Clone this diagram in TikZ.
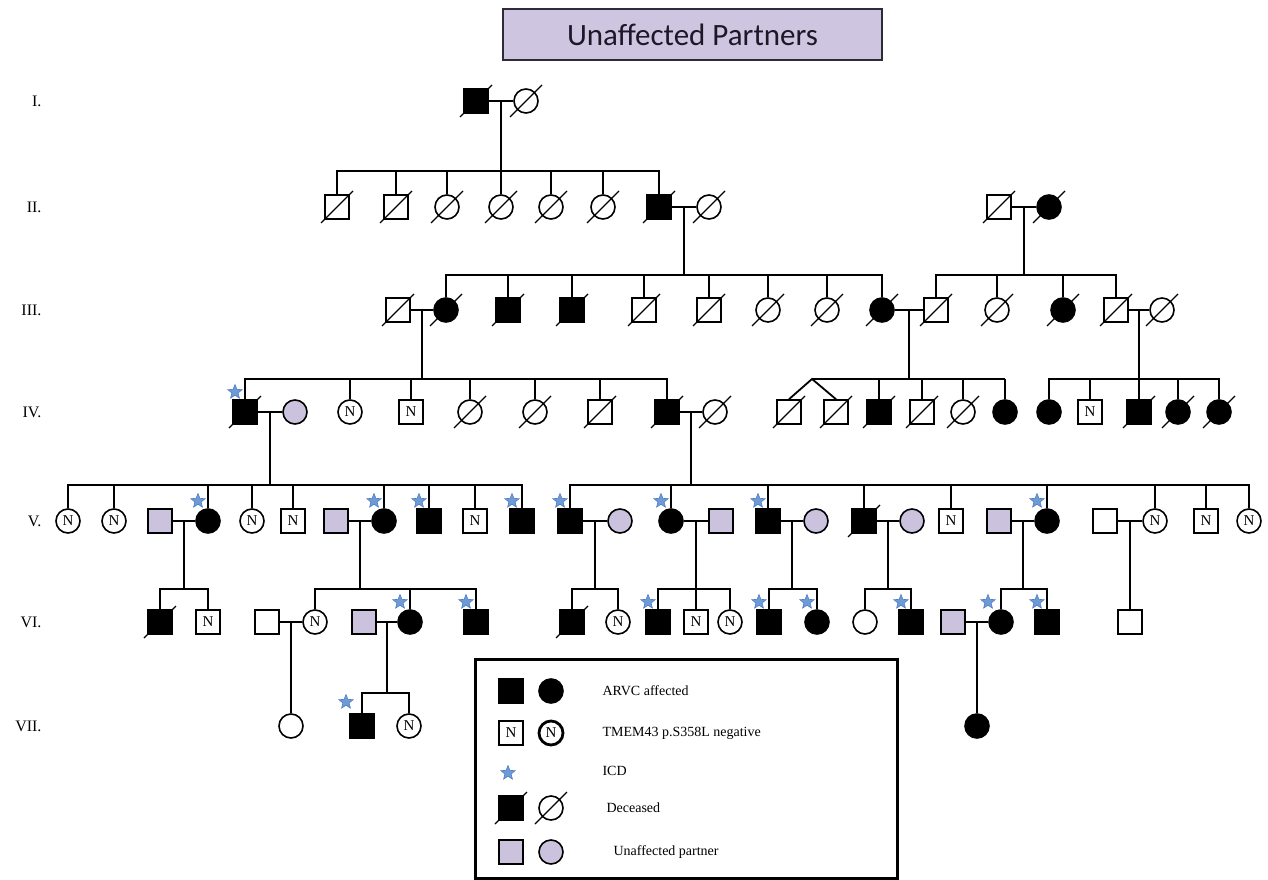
\documentclass[tikz,border=0pt]{standalone}
\usepackage{fontspec}
\setmainfont{Liberation Serif}
\newfontfamily\titlefont{Carlito}
\usetikzlibrary{shapes.geometric,calc}
\definecolor{lav}{HTML}{CBC3DE}
\definecolor{titlefill}{HTML}{CEC6E0}
\definecolor{titleborder}{HTML}{2E2B36}
\definecolor{titletext}{HTML}{1C1828}
\definecolor{starfill}{HTML}{6E9BD8}
\definecolor{stardraw}{HTML}{4F7DC0}
\tikzset{
  base/.style={draw=black, line width=1.6pt, inner sep=0pt, minimum size=24pt, font=\fontsize{15}{15}\selectfont},
  sq/.style={base, rectangle},
  ci/.style={base, circle},
  aff/.style={fill=black},
  par/.style={fill=lav},
  thick border/.style={line width=2.8pt},
  link/.style={line width=1.8pt, line join=miter},
  slash/.style={line width=1.3pt},
  icd/.style={star, star points=5, star point ratio=2.3, fill=starfill, draw=stardraw, line width=0.6pt, minimum size=15pt, inner sep=0pt},
  gen/.style={anchor=east, font=\fontsize{16}{16}\selectfont},
  legtext/.style={anchor=west, font=\fontsize{14}{14}\selectfont},
}
\newcommand\decd[1]{\draw[slash] ([shift={(-16,16)}]#1.center) -- ([shift={(16,-16)}]#1.center);}
\newcommand\icdmark[2][-10,-20]{\node[icd] (icd-#2) at ([shift={(#1)}]#2.center) {};}
% #1,#2 parents; #3 level coordinate; #4 first child; #5 last child; #6 other children
\newcommand\pedfam[6]{%
  \draw[link] (#1.east) -- (#2.west);
  \coordinate (m#1#2) at ($(#1.east)!.5!(#2.west)$);
  \draw[link] (m#1#2) -- (m#1#2 |- #3);
  \draw[link] (#4.north) -- (#4.north |- #3) -- (#5.north |- #3) -- (#5.north);
  \foreach \c in {#6} {\draw[link] (\c.north) -- (\c.north |- #3);}
}
\newcommand\pedsingle[3]{%
  \draw[link] (#1.east) -- (#2.west);
  \coordinate (m#1#2) at ($(#1.east)!.5!(#2.west)$);
  \draw[link] (m#1#2) -- (m#1#2 |- #3.north);
}
\begin{document}
\begin{tikzpicture}[x=1pt,y=-1pt]
\useasboundingbox (0,0) rectangle (1268,880);
% level coordinates
\coordinate (L2) at (0,171);
\coordinate (L3) at (0,275);
\coordinate (L4) at (0,379);
\coordinate (L5) at (0,485);
\coordinate (L6) at (0,589);
\coordinate (L7) at (0,693);

% title
\node[draw=titleborder, fill=titlefill, line width=2pt, minimum width=379pt, minimum height=51pt,
      font=\titlefont\fontsize{31}{31}\selectfont, text=titletext] (title) at (692.5,34.5) {Unaffected Partners};

% generation labels
\node[gen] (gI) at (45,101) {I.};
\node[gen] (gII) at (45,207) {II.};
\node[gen] (gIII) at (45,310) {III.};
\node[gen] (gIV) at (45,412) {IV.};
\node[gen] (gV) at (45,521) {V.};
\node[gen] (gVI) at (45,622) {VI.};
\node[gen] (gVII) at (45,726) {VII.};

% Generation I
\node[sq,aff] (i1) at (476,101) {};
\node[ci] (i2) at (526,101) {};

% Generation II
\node[sq] (ii1) at (337,207) {};
\node[sq] (ii2) at (396,207) {};
\node[ci] (ii3) at (447,207) {};
\node[ci] (ii4) at (501,207) {};
\node[ci] (ii5) at (551,207) {};
\node[ci] (ii6) at (603,207) {};
\node[sq,aff] (ii7) at (659,207) {};
\node[ci] (ii8) at (709,207) {};
\node[sq] (ii9) at (999,207) {};
\node[ci,aff] (ii10) at (1049,207) {};

% Generation III
\node[sq] (iii1) at (398,310) {};
\node[ci,aff] (iii2) at (446,310) {};
\node[sq,aff] (iii3) at (508,310) {};
\node[sq,aff] (iii4) at (572,310) {};
\node[sq] (iii5) at (644,310) {};
\node[sq] (iii6) at (709,310) {};
\node[ci] (iii7) at (768,310) {};
\node[ci] (iii8) at (827,310) {};
\node[ci,aff] (iii9) at (882,310) {};
\node[sq] (iii10) at (936,310) {};
\node[ci] (iii11) at (997,310) {};
\node[ci,aff] (iii12) at (1063,310) {};
\node[sq] (iii13) at (1116,310) {};
\node[ci] (iii14) at (1162,310) {};

% Generation IV
\node[sq,aff] (iv1) at (245,412) {};
\node[ci,par] (iv2) at (295,412) {};
\node[ci] (iv3) at (350,412) {N};
\node[sq] (iv4) at (411,412) {N};
\node[ci] (iv5) at (470,412) {};
\node[ci] (iv6) at (535,412) {};
\node[sq] (iv7) at (600,412) {};
\node[sq,aff] (iv8) at (667,412) {};
\node[ci] (iv9) at (715,412) {};
\node[sq] (iv10) at (789,412) {};
\node[sq] (iv11) at (836,412) {};
\node[sq,aff] (iv12) at (879,412) {};
\node[sq] (iv13) at (922,412) {};
\node[ci] (iv14) at (963,412) {};
\node[ci,aff] (iv15) at (1005,412) {};
\node[ci,aff] (iv16) at (1049,412) {};
\node[sq] (iv17) at (1090,412) {N};
\node[sq,aff] (iv18) at (1139,412) {};
\node[ci,aff] (iv19) at (1178,412) {};
\node[ci,aff] (iv20) at (1219,412) {};

% Generation V
\node[ci] (v1) at (68,521) {N};
\node[ci] (v2) at (114,521) {N};
\node[sq,par] (v3) at (160,521) {};
\node[ci,aff] (v4) at (208,521) {};
\node[ci] (v5) at (252,521) {N};
\node[sq] (v6) at (293,521) {N};
\node[sq,par] (v7) at (336,521) {};
\node[ci,aff] (v8) at (384,521) {};
\node[sq,aff] (v9) at (429,521) {};
\node[sq] (v10) at (475,521) {N};
\node[sq,aff] (v11) at (522,521) {};
\node[sq,aff] (v12) at (570,521) {};
\node[ci,par] (v13) at (620,521) {};
\node[ci,aff] (v14) at (671,521) {};
\node[sq,par] (v15) at (721,521) {};
\node[sq,aff] (v16) at (768,521) {};
\node[ci,par] (v17) at (816,521) {};
\node[sq,aff] (v18) at (864,521) {};
\node[ci,par] (v19) at (912,521) {};
\node[sq] (v20) at (951,521) {N};
\node[sq,par] (v21) at (999,521) {};
\node[ci,aff] (v22) at (1047,521) {};
\node[sq] (v23) at (1105,521) {};
\node[ci] (v24) at (1155,521) {N};
\node[sq] (v25) at (1206,521) {N};
\node[ci] (v26) at (1249,521) {N};

% Generation VI
\node[sq,aff] (vi1) at (160,622) {};
\node[sq] (vi2) at (208,622) {N};
\node[sq] (vi3) at (267,622) {};
\node[ci] (vi4) at (315,622) {N};
\node[sq,par] (vi5) at (364,622) {};
\node[ci,aff] (vi6) at (410,622) {};
\node[sq,aff] (vi7) at (476,622) {};
\node[sq,aff] (vi8) at (572,622) {};
\node[ci] (vi9) at (618,622) {N};
\node[sq,aff] (vi10) at (658,622) {};
\node[sq] (vi11) at (696,622) {N};
\node[ci] (vi12) at (730,622) {N};
\node[sq,aff] (vi13) at (769,622) {};
\node[ci,aff] (vi14) at (817,622) {};
\node[ci] (vi15) at (865,622) {};
\node[sq,aff] (vi16) at (911,622) {};
\node[sq,par] (vi17) at (953,622) {};
\node[ci,aff] (vi18) at (1001,622) {};
\node[sq,aff] (vi19) at (1047,622) {};
\node[sq] (vi20) at (1130,622) {};

% Generation VII
\node[ci] (vii1) at (291,726) {};
\node[sq,aff] (vii2) at (362,726) {};
\node[ci] (vii3) at (409,726) {N};
\node[ci,aff] (vii4) at (977,726) {};

% families
\pedfam{i1}{i2}{L2}{ii1}{ii7}{ii2,ii3,ii4,ii5,ii6}
\pedfam{ii7}{ii8}{L3}{iii2}{iii9}{iii3,iii4,iii5,iii6,iii7,iii8}
\pedfam{ii9}{ii10}{L3}{iii10}{iii13}{iii11,iii12}
\pedfam{iii1}{iii2}{L4}{iv1}{iv8}{iv3,iv4,iv5,iv6,iv7}
\pedfam{iii13}{iii14}{L4}{iv16}{iv20}{iv17,iv18,iv19}
% family with twins
\coordinate (tw) at (812,379);
\pedfam{iii9}{iii10}{L4}{iv15}{iv15}{iv12,iv13,iv14}
\draw[link] (tw) -- (iv15.north |- L4);
\draw[link] (iv10.north) -- (tw) -- (iv11.north);
\pedfam{iv1}{iv2}{L5}{v1}{v11}{v2,v4,v5,v6,v8,v9,v10}
\pedfam{iv8}{iv9}{L5}{v12}{v26}{v14,v16,v18,v20,v22,v24,v25}
\pedfam{v3}{v4}{L6}{vi1}{vi2}{vi1}
\pedfam{v7}{v8}{L6}{vi4}{vi7}{vi6}
\pedfam{v12}{v13}{L6}{vi8}{vi9}{vi8}
\pedfam{v14}{v15}{L6}{vi10}{vi12}{vi11}
\pedfam{v16}{v17}{L6}{vi13}{vi14}{vi13}
\pedfam{v18}{v19}{L6}{vi15}{vi16}{vi15}
\pedfam{v21}{v22}{L6}{vi18}{vi19}{vi18}
\pedsingle{v23}{v24}{vi20}
\pedsingle{vi3}{vi4}{vii1}
\pedfam{vi5}{vi6}{L7}{vii2}{vii3}{vii2}
\pedsingle{vi17}{vi18}{vii4}

% deceased marks
\foreach \p in {i1,i2,ii1,ii2,ii3,ii4,ii5,ii6,ii7,ii8,ii9,ii10,
  iii1,iii2,iii3,iii4,iii5,iii6,iii7,iii8,iii9,iii10,iii11,iii12,iii13,iii14,
  iv1,iv5,iv6,iv7,iv8,iv9,iv10,iv11,iv12,iv13,iv14,iv18,iv19,iv20,v18,vi1,vi8}
  {\decd{\p}}

% ICD stars
\icdmark{iv1}
\foreach \p in {v4,v8,v9,v11,v12,v14,v16,v22,vi6,vi7,vi10,vi13,vi14,vi16,vi19} {\icdmark{\p}}
\icdmark[-13,-20]{vi18}
\icdmark[-16,-24]{vii2}

% legend
\node[draw, line width=3pt, minimum width=422pt, minimum height=219pt, inner sep=0pt] (legend) at (686,768.5) {};
\node[sq,aff] (l1) at (511,691) {};
\node[ci,aff] (l2) at (551,691) {};
\node[legtext] (t1) at (599,691) {ARVC affected};
\node[sq,thick border] (l3) at (511,733) {N};
\node[ci,thick border] (l4) at (551,733) {N};
\node[legtext] (t2) at (599,733) {TMEM43 p.S358L negative};
\node[icd] (l5) at (508,773) {};
\node[legtext] (t3) at (599,771) {ICD};
\node[sq,aff] (l6) at (511,808) {};
\node[ci] (l7) at (551,808) {};
\decd{l6}
\decd{l7}
\node[legtext] (t4) at (603,808) {Deceased};
\node[sq,par] (l8) at (511,852) {};
\node[ci,par] (l9) at (551,852) {};
\node[legtext] (t5) at (610,852) {Unaffected partner};
\end{tikzpicture}
\end{document}
